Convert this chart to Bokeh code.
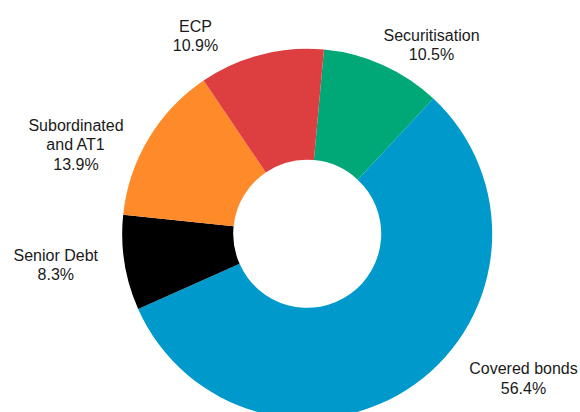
import math
from bokeh.plotting import figure
from bokeh.models import ColumnDataSource, Range1d
from bokeh.core.properties import value
from bokeh.embed import file_html
from bokeh.resources import INLINE

# ---- data (clockwise from the top) ----
categories = ["Securitisation", "Covered bonds", "Senior Debt", "Subordinated\nand AT1", "ECP"]
shares = [10.5, 56.4, 8.3, 13.9, 10.9]
colors = ["#00A878", "#0099CB", "#000000", "#FF8A2A", "#DD3E3F"]

# ---- layout ----
W, H = 580, 412
def to_data(wx, wy):
    return wx, H - wy

cx, cy = to_data(306.7, 233.3)
r_out, r_in = 185, 74
offset_deg = 5.2  # clockwise from 12 o'clock

label_pos = [(431, 44.5), (523, 378), (55.3, 264.5), (75.5, 144.5), (195, 35.5)]

total = sum(shares)
starts, ends = [], []
cum = 0.0
for s in shares:
    a0 = math.radians(90 - offset_deg - cum / total * 360)
    cum += s
    a1 = math.radians(90 - offset_deg - cum / total * 360)
    starts.append(a0)
    ends.append(a1)

src = ColumnDataSource(dict(start=starts, end=ends, color=colors))

p = figure(width=W, height=H, output_backend="svg", toolbar_location=None,
           x_range=Range1d(0, W), y_range=Range1d(0, H), min_border=0)
p.axis.visible = False
p.grid.visible = False
p.outline_line_color = None
p.background_fill_color = "white"

p.annular_wedge(x=cx, y=cy, inner_radius=r_in, outer_radius=r_out,
                start_angle="start", end_angle="end", direction="clock",
                fill_color="color", line_color=None, source=src)

lx, ly, txt = [], [], []
for (wx, wy), c, s in zip(label_pos, categories, shares):
    x, y = to_data(wx, wy)
    lx.append(x)
    ly.append(y)
    txt.append(f"{c}\n{s:.1f}%")

lsrc = ColumnDataSource(dict(x=lx, y=ly, text=txt))
p.text(x="x", y="y", text="text", source=lsrc, text_align="center",
       text_baseline="middle", text_font=value("Liberation Sans"),
       text_font_size="16px", text_color="#1a1a1a", text_line_height=1.15)

open("out.html", "w").write(file_html(p, INLINE))
